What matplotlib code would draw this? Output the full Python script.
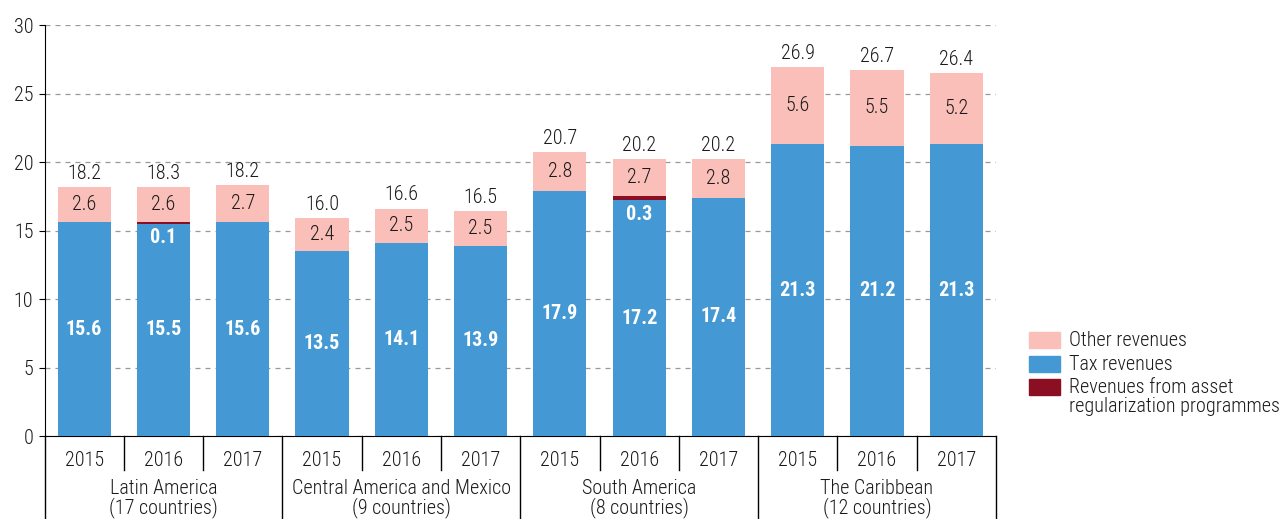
import matplotlib.pyplot as plt
from matplotlib.patches import Rectangle

plt.rcParams['font.family'] = ['Roboto Condensed', 'Liberation Sans Narrow', 'Roboto', 'DejaVu Sans']

groups = ['Latin America\n(17 countries)', 'Central America and Mexico\n(9 countries)',
          'South America\n(8 countries)', 'The Caribbean\n(12 countries)']
years = ['2015', '2016', '2017']

tax = [15.6, 15.5, 15.6, 13.5, 14.1, 13.9, 17.9, 17.2, 17.4, 21.3, 21.2, 21.3]
asset = [0, 0.1, 0, 0, 0, 0, 0, 0.3, 0, 0, 0, 0]
other = [2.6, 2.6, 2.7, 2.4, 2.5, 2.5, 2.8, 2.7, 2.8, 5.6, 5.5, 5.2]
totals = [18.2, 18.3, 18.2, 16.0, 16.6, 16.5, 20.7, 20.2, 20.2, 26.9, 26.7, 26.4]

c_tax = '#4499d4'
c_asset = '#8b0e23'
c_other = '#f9bfb8'
txt = '#1a1a1a'

W, H = 1283, 519
fig = plt.figure(figsize=(W / 100, H / 100), dpi=100)
ax = fig.add_axes([0.0347, 0.1599, 0.7416, 0.7919])

x = list(range(len(tax)))
w = 0.67
ax.bar(x, tax, w, color=c_tax, zorder=3)
ax.bar(x, asset, w, bottom=tax, color=c_asset, zorder=3)
bot2 = [t + a for t, a in zip(tax, asset)]
ax.bar(x, other, w, bottom=bot2, color=c_other, zorder=3)

fs = 14.5
lw = 'light'
for i in x:
    ax.text(i, tax[i] / 2, f'{tax[i]:.1f}', ha='center', va='center',
            color='white', fontsize=fs, fontweight='bold', zorder=4)
    ax.text(i, bot2[i] + other[i] / 2, f'{other[i]:.1f}', ha='center', va='center',
            color=txt, fontsize=fs, fontweight=lw, zorder=4)
    ax.annotate(f'{totals[i]:.1f}', (i, bot2[i] + other[i]), xytext=(0, 3),
                textcoords='offset points', ha='center', va='bottom',
                color=txt, fontsize=fs, fontweight=lw, zorder=4)
    if asset[i] > 0:
        ax.annotate(f'{asset[i]:.1f}', (i, tax[i]), xytext=(0, -3),
                    textcoords='offset points', ha='center', va='top',
                    color='white', fontsize=fs, fontweight='bold', zorder=4)

ax.set_xlim(-0.5, len(tax) - 0.5)
ax.set_ylim(0, 30)
ax.set_yticks(range(0, 31, 5))
ax.tick_params(axis='y', labelsize=fs, length=4, direction='out', pad=4, labelcolor=txt)
for lab in ax.get_yticklabels():
    lab.set_fontweight(lw)
ax.set_xticks([])
ax.yaxis.grid(True, linestyle=(0, (4, 4)), color='#999999', linewidth=0.9, zorder=0)
for s in ['top', 'right']:
    ax.spines[s].set_visible(False)

# two-level category axis below the bars
ytr = ax.get_xaxis_transform()
for i in x:
    ax.text(i, -0.06, years[i % 3], transform=ytr, ha='center', va='center',
            fontsize=fs, fontweight=lw, color=txt)
for g, name in enumerate(groups):
    ax.text(3 * g + 1, -0.153, name, transform=ytr, ha='center', va='center',
            fontsize=fs, fontweight=lw, color=txt, linespacing=0.95)
for k in range(len(tax) + 1):
    edge = k - 0.5
    low = -0.25 if k % 3 == 0 else -0.083
    ax.plot([edge, edge], [0, low], transform=ytr, color='black',
            linewidth=1, clip_on=False)

# legend, placed by hand
leg_items = [(c_other, 'Other revenues'),
             (c_tax, 'Tax revenues'),
             (c_asset, 'Revenues from asset\nregularization programmes')]
for j, (col, lab) in enumerate(leg_items):
    top = 332 + j * 23.5
    fig.add_artist(Rectangle((1029 / W, 1 - (top + 16) / H), 31 / W, 16 / H,
                             transform=fig.transFigure, color=col))
    fig.text(1069 / W, 1 - (top - 1) / H, lab, ha='left', va='top',
             fontsize=fs, fontweight=lw, color=txt, linespacing=1.0)

fig.savefig('out.png', dpi=100)
